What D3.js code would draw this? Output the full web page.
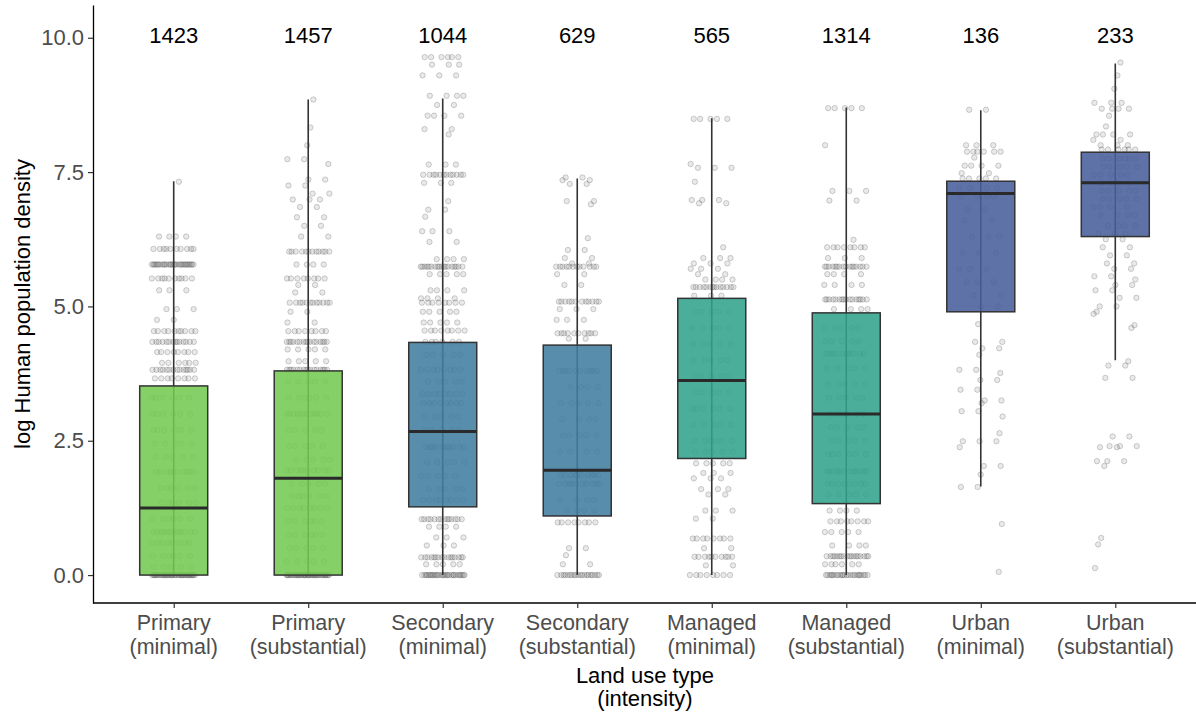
<!DOCTYPE html>
<html lang="en">
<head>
<meta charset="UTF-8">
<script src="https://cdn.jsdelivr.net/npm/d3@7"></script>
<title>Human population density by land use</title>
<style>
    html, body { margin: 0; padding: 0; background: #fff; }
    body { font-family: "Liberation Sans", Arial, sans-serif; }
</style>
</head>
<body>
<div id="chart"></div>
<script>
// land use categories and their two-line tick labels
const categories = ["PriMin", "PriSub", "SecMin", "SecSub", "ManMin", "ManSub", "UrbMin", "UrbSub"];
const tickLine1 = ["Primary", "Primary", "Secondary", "Secondary", "Managed", "Managed", "Urban", "Urban"];
const tickLine2 = ["(minimal)", "(substantial)", "(minimal)", "(substantial)", "(minimal)", "(substantial)", "(minimal)", "(substantial)"];
const sampleSizes = [1423, 1457, 1044, 629, 565, 1314, 136, 233];

// box statistics
const whiskerLow  = [0, 0, 0, 0, 0, 0, 1.65, 4.0];
const q1          = [0, 0, 1.27, 1.1, 2.17, 1.33, 4.9, 6.3];
const medians     = [1.25, 1.8, 2.67, 1.95, 3.62, 3.0, 7.1, 7.3];
const q3          = [3.52, 3.8, 4.33, 4.28, 5.15, 4.88, 7.33, 7.87];
const whiskerHigh = [7.33, 8.85, 8.87, 7.38, 8.5, 8.7, 8.65, 9.52];

const yTicks = [0, 2.5, 5, 7.5, 10];

// observed points: [value, how many at that value] for each category
const pointsPriMin = [[7.32,1],[6.3,4],[6.07,10],[5.78,30],[5.52,10],[5.3,3],[4.95,3],[4.75,2],[4.54,10],[4.34,14],[4.15,8],[3.95,6],[3.82,14],[3.66,8],
    [3.3,6],[3.0,6],[2.7,6],[2.45,5],[2.2,5],[1.92,10],[1.62,6],[1.35,6],[1.05,6],[0.8,12],[0.6,8],[0.35,6],[0.15,5],[0,40]];
const pointsPriSub = [[8.85,1],[8.33,1],[8.0,1],[7.74,2],[7.65,1],[7.36,2],[7.25,2],[7.1,2],[6.99,3],[6.85,2],[6.66,2],[6.5,2],[6.3,2],[6.02,12],[5.78,4],[5.52,8],[5.4,2],[5.26,2],[5.07,12],[4.9,2],[4.7,2],[4.54,8],[4.34,16],[4.2,5],[3.98,5],[3.82,16],
    [3.6,5],[3.3,6],[3.0,12],[2.7,5],[2.4,5],[2.15,5],[1.95,10],[1.7,5],[1.47,6],[1.25,8],[1.0,6],[0.75,6],[0.5,5],[0.25,5],[0,40]];
const pointsSecMin = [[9.64,6],[9.5,3],[9.3,3],[8.92,4],[8.75,2],[8.55,4],[8.3,2],[8.2,1],[7.64,3],[7.45,12],[7.3,3],[6.96,1],[6.8,2],[6.67,1],[6.4,3],[6.2,2],[5.88,4],[5.74,18],[5.6,5],[5.3,4],[5.15,4],[5.07,8],[4.9,5],[4.7,5],[4.55,8],[4.34,6],
    [4.1,5],[3.82,8],[3.6,5],[3.37,8],[3.2,8],[2.95,5],[2.7,5],[2.38,10],[2.1,5],[1.85,5],[1.6,5],[1.4,8],
    [1.04,14],[0.9,4],[0.7,3],[0.55,3],[0.33,16],[0.2,5],[0,30]];
const pointsSecSub = [[7.4,2],[7.35,2],[7.28,2],[6.96,2],[6.9,1],[6.27,1],[6.05,2],[5.9,2],[5.8,2],[5.74,12],[5.6,2],[5.4,2],[5.09,12],[4.95,3],[4.75,3],[4.5,10],[4.4,2],
    [3.8,10],[3.5,4],[3.2,5],[2.9,4],[2.6,5],[2.3,4],[1.86,10],[1.7,10],[1.4,4],[1.2,4],
    [0.98,8],[0.5,2],[0.37,1],[0.2,2],[0,20]];
const pointsManMin = [[8.49,5],[7.65,1],[7.58,3],[7.32,1],[6.98,3],[6.92,2],[6.1,1],[5.9,3],[5.8,3],[5.7,3],[5.6,2],[5.5,4],[5.36,14],[5.2,3],
    [4.9,5],[4.6,5],[4.3,5],[4.0,5],[3.7,5],[3.4,5],[3.1,6],[2.8,5],[2.5,6],[2.3,5],
    [2.08,5],[1.9,3],[1.8,3],[1.6,3],[1.5,2],[1.2,3],[1.05,2],[0.68,8],[0.5,2],[0.34,10],[0.18,2],[0,8]];
const pointsManSub = [[8.69,5],[8.0,1],[7.15,3],[6.97,2],[6.24,1],[6.1,8],[5.9,3],[5.74,16],[5.6,4],[5.4,4],[5.13,16],[4.95,4],
    [4.6,5],[4.35,5],[4.12,10],[3.85,5],[3.55,5],[3.3,5],[3.0,6],[2.75,5],[2.5,5],[2.25,6],[1.93,12],[1.7,8],[1.5,5],
    [1.2,4],[1.0,8],[0.8,5],[0.55,4],[0.35,18],[0.2,6],[0,24]];
const pointsUrbMin = [[8.66,2],[8.0,3],[7.88,6],[7.77,1],[7.62,4],[7.48,2],[7.38,5],
    [7.2,4],[7.05,4],[6.8,2],[6.6,2],[6.3,3],[6.0,3],[5.7,3],[5.45,3],[5.2,2],[5.0,2],
    [4.67,1],[4.34,2],[4.22,2],[4.1,1],[3.82,2],[3.76,1],[3.63,2],[3.45,2],[3.25,2],[3.2,1],[3.05,2],[2.95,1],[2.64,1],[2.49,3],[2.38,1],[2.03,2],[1.87,1],[1.64,2],[0.95,1],[0.06,1]];
const pointsUrbSub = [[9.54,1],[9.3,1],[9.05,1],[8.79,3],[8.68,4],[8.55,1],[8.35,1],[8.2,4],[8.1,2],[8.0,3],[7.92,6],
    [7.75,6],[7.6,5],[7.45,5],[7.3,4],[7.15,5],[7.0,5],[6.85,4],[6.7,4],[6.5,4],[6.35,3],
    [6.25,2],[6.1,2],[5.95,2],[5.8,2],[5.7,2],[5.56,2],[5.5,1],[5.4,2],[5.3,2],[5.16,2],[5.0,2],[4.9,1],[4.86,1],[4.65,1],[4.6,1],
    [3.98,1],[3.9,2],[3.67,2],[2.58,2],[2.4,3],[2.38,2],[2.12,3],[2.03,1],[0.69,1],[0.57,1],[0.13,1]];
const pointLevels = [pointsPriMin, pointsPriSub, pointsSecMin, pointsSecSub, pointsManMin, pointsManSub, pointsUrbMin, pointsUrbSub];

const boxColors = ["#74CB53", "#74CB53", "#417DA1", "#417DA1", "#31A38D", "#31A38D", "#485E9B", "#485E9B"];

const width = 1196, height = 713;
const margin = {top: 5, right: 0, bottom: 110, left: 93};

const svg = d3.select("#chart").append("svg")
    .attr("width", width).attr("height", height);

const x = d3.scalePoint()
    .domain(categories)
    .range([margin.left, width - margin.right])
    .padding(0.6);

const y = d3.scaleLinear()
    .domain([-0.52, 10.61])
    .range([height - margin.bottom, margin.top]);

const boxW = 68;
const jitterW = 22;

// jittered points (deterministic spread)
let pts = [];
pointLevels.forEach((levels, ci) => {
    let k = 0;
    levels.forEach(([v, n], li) => {
        for (let j = 0; j < n; j++) {
            let f = ((k + 1) * 0.6180339887 + li * 0.3119) % 1;
            pts.push({cat: categories[ci], v: v, dx: (f - 0.5) * 2 * jitterW});
            k++;
        }
    });
});

svg.append("g").selectAll("circle")
    .data(pts)
    .join("circle")
    .attr("cx", d => x(d.cat) + d.dx)
    .attr("cy", d => y(d.v))
    .attr("r", 2.7)
    .attr("fill", "#777")
    .attr("fill-opacity", 0.16)
    .attr("stroke", "#444")
    .attr("stroke-opacity", 0.3)
    .attr("stroke-width", 0.8);

// whiskers
svg.append("g").selectAll("line")
    .data(categories)
    .join("line")
    .attr("x1", d => x(d)).attr("x2", d => x(d))
    .attr("y1", (d, i) => y(whiskerLow[i]))
    .attr("y2", (d, i) => y(whiskerHigh[i]))
    .attr("stroke", "#333")
    .attr("stroke-width", 1.6);

// boxes
svg.append("g").selectAll("rect")
    .data(categories)
    .join("rect")
    .attr("x", d => x(d) - boxW / 2)
    .attr("width", boxW)
    .attr("y", (d, i) => y(q3[i]))
    .attr("height", (d, i) => y(q1[i]) - y(q3[i]))
    .attr("fill", (d, i) => boxColors[i])
    .attr("fill-opacity", 0.88)
    .attr("stroke", "#333")
    .attr("stroke-width", 1.5);

// medians
svg.append("g").selectAll("line")
    .data(categories)
    .join("line")
    .attr("x1", d => x(d) - boxW / 2).attr("x2", d => x(d) + boxW / 2)
    .attr("y1", (d, i) => y(medians[i]))
    .attr("y2", (d, i) => y(medians[i]))
    .attr("stroke", "#2a2a2a")
    .attr("stroke-width", 3);

// sample sizes
svg.append("g").selectAll("text")
    .data(categories)
    .join("text")
    .attr("x", d => x(d))
    .attr("y", 43)
    .attr("text-anchor", "middle")
    .attr("font-size", "22px")
    .attr("fill", "#000")
    .text((d, i) => sampleSizes[i]);

// y axis
const yAxis = svg.append("g")
    .attr("transform", `translate(${margin.left},0)`)
    .call(d3.axisLeft(y).tickValues(yTicks).tickFormat(d3.format(".1f")).tickSize(5).tickSizeOuter(0));
yAxis.select(".domain").attr("stroke", "#000").attr("stroke-width", 1.3);
yAxis.selectAll(".tick line").attr("stroke", "#333").attr("stroke-width", 1.2);
yAxis.selectAll(".tick text")
    .attr("font-size", "22px")
    .attr("font-family", "Liberation Sans, Arial, sans-serif")
    .attr("fill", "#4d4d4d")
    .attr("x", -9);

// x axis
const xAxis = svg.append("g")
    .attr("transform", `translate(0,${height - margin.bottom})`)
    .call(d3.axisBottom(x).tickSize(5).tickSizeOuter(0).tickFormat(""));
xAxis.select(".domain").attr("stroke", "#000").attr("stroke-width", 1.3)
    .attr("d", `M${margin.left},0H${width}`);
xAxis.selectAll(".tick line").attr("stroke", "#333").attr("stroke-width", 1.2);

const xLab = svg.append("g").selectAll("text")
    .data(categories)
    .join("text")
    .attr("x", d => x(d))
    .attr("text-anchor", "middle")
    .attr("font-size", "21.5px")
    .attr("fill", "#4d4d4d");
xLab.append("tspan").attr("x", d => x(d)).attr("y", 630).text((d, i) => tickLine1[i]);
xLab.append("tspan").attr("x", d => x(d)).attr("y", 654).text((d, i) => tickLine2[i]);

// axis titles
const xTitle = svg.append("text")
    .attr("text-anchor", "middle")
    .attr("font-size", "22px")
    .attr("fill", "#000");
xTitle.append("tspan").attr("x", 645).attr("y", 683).text("Land use type");
xTitle.append("tspan").attr("x", 645).attr("y", 706).text("(intensity)");

svg.append("text")
    .attr("transform", `translate(30,${(margin.top + height - margin.bottom) / 2}) rotate(-90)`)
    .attr("text-anchor", "middle")
    .attr("font-size", "22px")
    .attr("fill", "#000")
    .text("log Human population density");
</script>
</body>
</html>
